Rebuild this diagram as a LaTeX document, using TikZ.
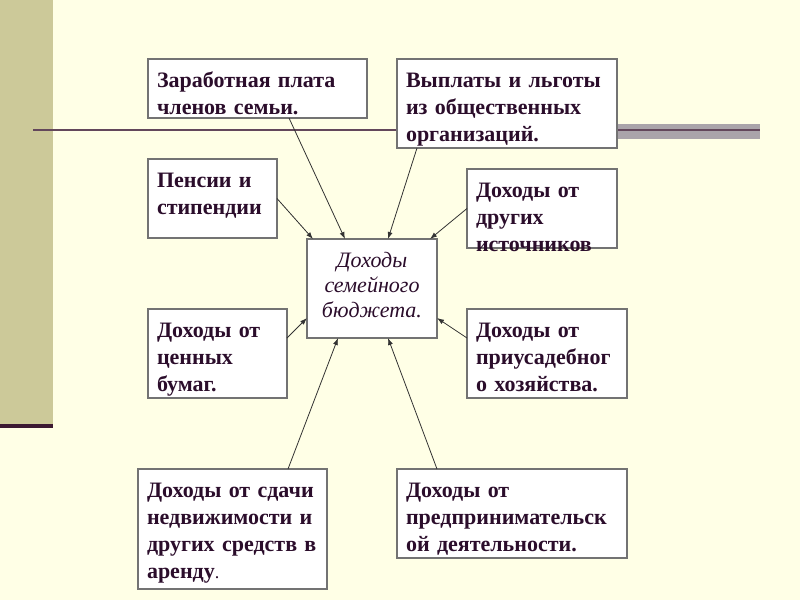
\documentclass[tikz,border=0pt]{standalone}
\usepackage{fontspec}
\setmainfont{Liberation Serif}
\usetikzlibrary{arrows.meta}
\definecolor{cream}{RGB}{255,255,230}
\definecolor{khaki}{RGB}{204,201,153}
\definecolor{plum}{RGB}{60,25,50}
\definecolor{inktext}{RGB}{43,13,43}
\definecolor{bandgrey}{RGB}{170,164,170}

\begin{document}
\begin{tikzpicture}[x=1pt,y=-1pt,
  box/.style={draw=gray!90!black,line width=1.2pt,fill=white,anchor=north west,
    outer sep=0pt,inner xsep=9pt,inner ysep=0pt,text height=28pt,align=left,
    text=inktext,font=\fontsize{22}{27}\selectfont\bfseries},
  feed/.style={-{Latex[length=7pt,width=5pt]},line width=0.8pt,draw=black!80}]
  \fill[cream] (0,0) rectangle (800,600);
  \fill[khaki] (0,0) rectangle (53,424);
  \fill[plum] (0,424) rectangle (53,428);
  \fill[bandgrey] (617,124) rectangle (760,139);
  \draw[plum!80,line width=1.2pt] (33,130)--(760,130);

  \node[box,text width=201pt,text depth=31pt] (zp) at (148,59) {Заработная плата\\членов семьи.};
  \node[box,text width=202pt,text depth=61pt] (vl) at (397,59) {Выплаты и льготы\\из общественных\\организаций.};
  \node[box,text width=111pt,text depth=51pt] (pn) at (148,159) {Пенсии и\\стипендии};
  \node[box,text width=132pt,text depth=51pt] (dr) at (467,169) {Доходы от\\других\\источников};
  \node[box,text width=112pt,text depth=71pt,align=center,
    font=\fontsize{22}{25}\selectfont\itshape] (db) at (307,239) {Доходы\\семейного\\бюджета.};
  \node[box,text width=121pt,text depth=61pt] (cb) at (148,309) {Доходы от\\ценных\\бумаг.};
  \node[box,text width=142pt,text depth=61pt] (pr) at (467,309) {Доходы от\\приусадебног\\о хозяйства.};
  \node[box,text width=171pt,text depth=92pt] (ar) at (138,469) {Доходы от сдачи\\недвижимости и\\других средств в\\аренду{\mdseries\fontsize{18}{27}\selectfont.}};
  \node[box,text width=212pt,text depth=61pt] (pd) at (397,469) {Доходы от\\предпринимательск\\ой деятельности.};

  \draw[feed] ([xshift=31.5pt]zp.south) -- ([xshift=-27pt]db.north);
  \draw[feed] (pn.east) -- ([xshift=-59pt]db.north);
  \draw[feed] ([xshift=20pt]vl.south west) -- ([xshift=16pt]db.north);
  \draw[feed] (dr.west) -- ([xshift=-7pt]db.north east);
  \draw[feed] ([yshift=15.5pt]cb.east) -- ([yshift=20pt]db.south west);
  \draw[feed] ([yshift=15.5pt]pr.west) -- ([yshift=20pt]db.south east);
  \draw[feed] ([xshift=-39pt]ar.north east) -- ([xshift=-34pt]db.south);
  \draw[feed] ([xshift=40pt]pd.north west) -- ([xshift=16pt]db.south);
\end{tikzpicture}
\end{document}
